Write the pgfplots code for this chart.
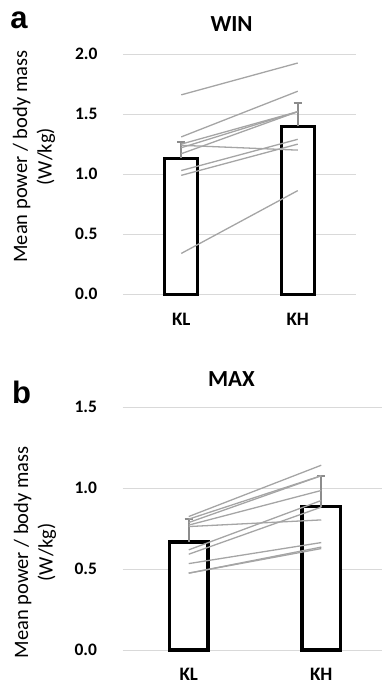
\documentclass[border=0pt]{standalone}
\usepackage{fontspec}
\setmainfont{Carlito}
\newfontfamily\arialfont{Liberation Sans}
\usepackage{pgfplots}
\pgfplotsset{compat=1.18}
\definecolor{gridc}{RGB}{217,217,217}
\definecolor{linec}{RGB}{165,165,165}
\definecolor{errc}{RGB}{140,140,140}
\pgfplotsset{
  panel/.style={
    scale only axis,
    axis line style={draw=none},
    major tick length=0pt,
    ymajorgrids,
    grid style={gridc, line width=1bp},
    xmin=-0.5, xmax=1.5, ymin=0,
    xtick={0,1}, xticklabels={KL,KH},
    /pgf/number format/assume math mode=true,
    yticklabel style={/pgf/number format/fixed, /pgf/number format/fixed zerofill, /pgf/number format/precision=1,
      font=\fontsize{17.5bp}{20bp}\selectfont\bfseries, xshift=-22bp},
    xticklabel style={font=\fontsize{19bp}{22bp}\selectfont\bfseries, yshift=-15bp},
    title style={font=\fontsize{23bp}{26bp}\selectfont\bfseries, anchor=center},
    clip=false,
  },
  subj/.style={linec, line width=1.3bp, mark=none},
}
\begin{document}
\begin{tikzpicture}
% ---------------- panel a ----------------
\begin{axis}[panel,
  at={(123bp,-54bp)}, anchor=north west,
  width=233bp, height=240.3bp,
  ymax=2.0, ytick={0,0.5,1,1.5,2},
  title={WIN}, title style={at={(axis description cs:0.466,1.100)}},
  ylabel={Mean power / body mass\\(W/kg)},
  every axis y label/.style={at={(axis description cs:-0.382,0.573)}, rotate=90, anchor=center, align=center, font=\fontsize{20.5bp}{24.6bp}\selectfont},
]
\addplot[ybar, bar width=33bp, fill=white, draw=black, line width=3bp,
  error bars/.cd, y dir=plus, y explicit,
  error bar style={errc, line width=2bp},
  error mark options={errc, line width=2bp, mark size=4bp, rotate=90}]
  coordinates {(0,1.133) +- (0,0.137) (1,1.40) +- (0,0.19)};
\addplot[subj] coordinates {(0,1.66) (1,1.925)};
\addplot[subj] coordinates {(0,1.31) (1,1.69)};
\addplot[subj] coordinates {(0,1.25) (1,1.52)};
\addplot[subj] coordinates {(0,1.24) (1,1.20)};
\addplot[subj] coordinates {(0,1.22) (1,1.52)};
\addplot[subj] coordinates {(0,1.17) (1,1.52)};
\addplot[subj] coordinates {(0,1.03) (1,1.29)};
\addplot[subj] coordinates {(0,0.99) (1,1.25)};
\addplot[subj] coordinates {(0,0.34) (1,0.863)};
\end{axis}
% ---------------- panel b ----------------
\begin{axis}[panel,
  at={(122.5bp,-407.3bp)}, anchor=north west,
  width=265bp, height=242.7bp,
  ymax=1.5, ytick={0,0.5,1,1.5},
  title={MAX}, title style={at={(axis description cs:0.411,1.092)}},
  ylabel={Mean power / body mass\\(W/kg)},
  every axis y label/.style={at={(axis description cs:-0.330,0.402)}, rotate=90, anchor=center, align=center, font=\fontsize{20.5bp}{24.6bp}\selectfont},
]
\addplot[ybar, bar width=38.5bp, fill=white, draw=black, line width=3.2bp,
  error bars/.cd, y dir=plus, y explicit,
  error bar style={errc, line width=2bp},
  error mark options={errc, line width=2bp, mark size=4bp, rotate=90}]
  coordinates {(0,0.668) +- (0,0.141) (1,0.885) +- (0,0.193)};
\addplot[subj] coordinates {(0,0.825) (1,1.142)};
\addplot[subj] coordinates {(0,0.809) (1,1.077)};
\addplot[subj] coordinates {(0,0.788) (1,1.077)};
\addplot[subj] coordinates {(0,0.772) (1,0.986)};
\addplot[subj] coordinates {(0,0.763) (1,0.804)};
\addplot[subj] coordinates {(0,0.619) (1,0.924)};
\addplot[subj] coordinates {(0,0.592) (1,0.883)};
\addplot[subj] coordinates {(0,0.534) (1,0.664)};
\addplot[subj] coordinates {(0,0.475) (1,0.636)};
\addplot[subj] coordinates {(0,0.475) (1,0.627)};
\end{axis}
\node[font=\fontsize{31bp}{31bp}\arialfont\bfseries, anchor=base] at (19bp,-28bp) {a};
\node[font=\fontsize{31bp}{31bp}\arialfont\bfseries, anchor=base] at (21.5bp,-403bp) {b};
\pgfresetboundingbox
\path[use as bounding box] (0,0) rectangle (382bp,-686bp);
\end{tikzpicture}
\end{document}
